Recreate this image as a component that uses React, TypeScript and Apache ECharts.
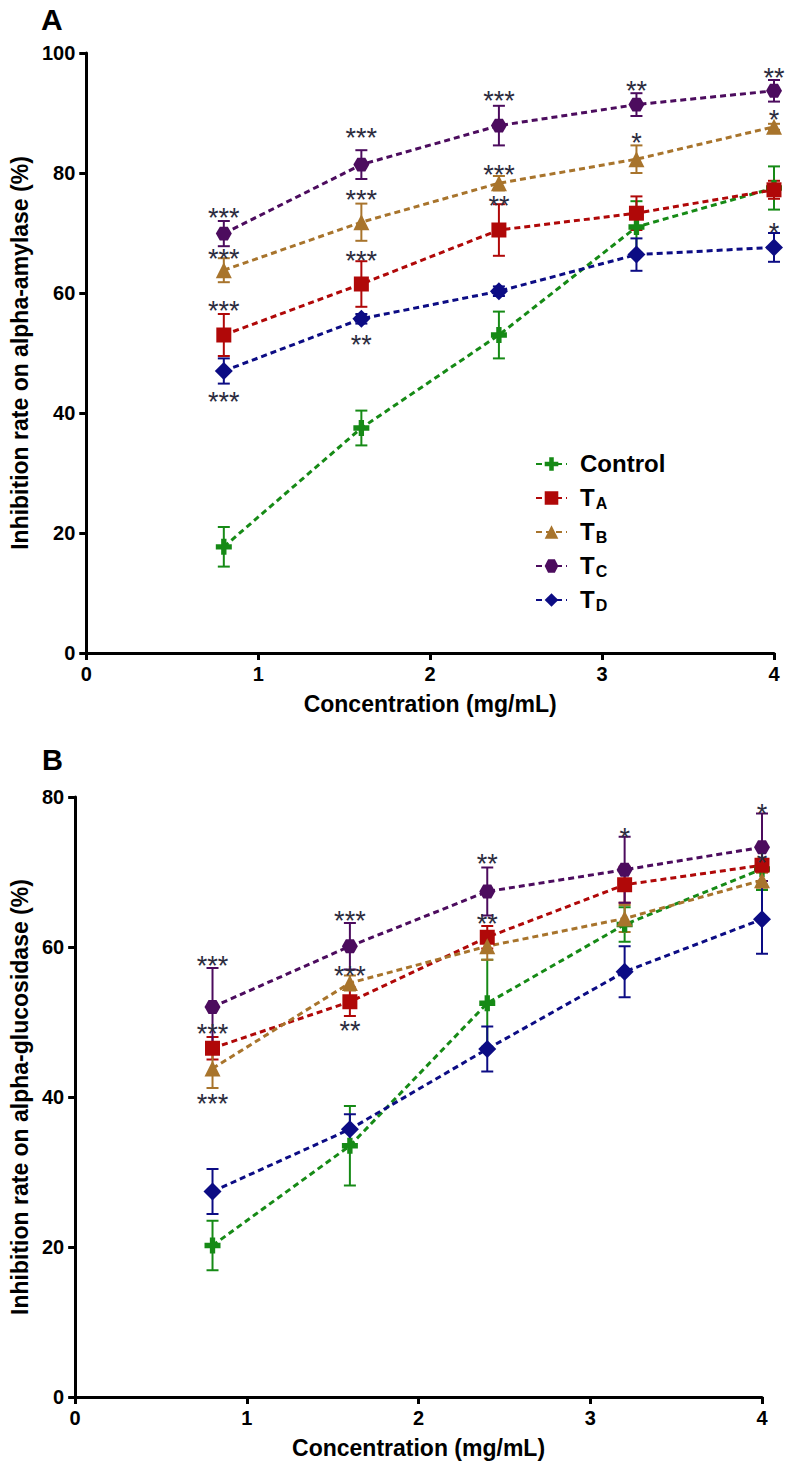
import React, { useEffect, useRef } from "react";
import * as echarts from "echarts";

const FONT = "'Liberation Sans', Arial, Helvetica, sans-serif";

// Concentrations (mg/mL)
const X_VALUES = [0.8, 1.6, 2.4, 3.2, 4.0];
const GROUP_NAMES = ["Control", "TA", "TB", "TC", "TD"];
const GROUP_COLORS = ["#168a16", "#b00808", "#a8742c", "#4c0c5e", "#0c0c84"];
const X_TICKS = [0, 1, 2, 3, 4];

// Panel A: alpha-amylase inhibition (%) — means and SD
const A_CONTROL = [17.7, 37.5, 53.0, 71.0, 77.5];
const A_CONTROL_SD = [3.3, 2.9, 3.9, 4.3, 3.6];
const A_TA = [53.0, 61.5, 70.5, 73.3, 77.2];
const A_TA_SD = [3.5, 3.8, 4.3, 2.8, 1.5];
const A_TB = [63.8, 71.8, 78.3, 82.3, 87.7];
const A_TB_SD = [2.0, 3.1, 1.2, 2.3, 0.5];
const A_TC = [69.9, 81.4, 87.9, 91.4, 93.7];
const A_TC_SD = [2.1, 2.4, 3.3, 1.9, 1.8];
const A_TD = [47.0, 55.7, 60.3, 66.4, 67.6];
const A_TD_SD = [2.1, 0.8, 0.8, 2.7, 2.4];

// Panel B: alpha-glucosidase inhibition (%) — means and SD
const B_CONTROL = [20.2, 33.5, 52.5, 63.0, 70.4];
const B_CONTROL_SD = [3.3, 5.3, 5.8, 2.3, 2.8];
const B_TA = [46.5, 52.7, 61.3, 68.3, 70.9];
const B_TA_SD = [1.5, 1.9, 1.5, 2.4, 0.8];
const B_TB = [43.8, 55.2, 60.1, 63.8, 68.9];
const B_TB_SD = [2.6, 1.0, 1.8, 1.8, 1.0];
const B_TC = [52.0, 60.1, 67.4, 70.3, 73.3];
const B_TC_SD = [5.2, 3.1, 3.2, 4.4, 4.5];
const B_TD = [27.4, 35.7, 46.4, 56.7, 63.7];
const B_TD_SD = [3.0, 2.0, 3.0, 3.4, 4.6];

// Significance marks: [concentration, value position, text]
const A_STARS: [number, number, string][] = [
  [0.8, 73.5, "***"], [0.8, 66.7, "***"], [0.8, 58.0, "***"], [0.8, 42.8, "***"],
  [1.6, 86.8, "***"], [1.6, 76.5, "***"], [1.6, 66.3, "***"], [1.6, 52.3, "**"],
  [2.4, 93.0, "***"], [2.4, 80.7, "***"], [2.4, 75.5, "**"],
  [3.2, 94.7, "**"], [3.2, 86.0, "*"],
  [4.0, 96.8, "**"], [4.0, 89.8, "*"], [4.0, 71.0, "*"],
];
const B_STARS: [number, number, string][] = [
  [0.8, 58.3, "***"], [0.8, 49.2, "***"], [0.8, 39.9, "***"],
  [1.6, 64.3, "***"], [1.6, 56.9, "***"], [1.6, 49.6, "**"],
  [2.4, 71.9, "**"], [2.4, 63.9, "**"],
  [3.2, 75.3, "*"],
  [4.0, 78.5, "*"], [4.0, 72.0, "*"],
];

const PLUS = "path://M4,0h4v4h4v4h-4v4h-4v-4h-4v-4h4z";
const HEX = "path://M5,0L15,0L20,8.66L15,17.32L5,17.32L0,8.66Z";
const SYMBOLS = [PLUS, "rect", "triangle", HEX, "diamond"];
const SYMBOL_SIZES = [16, 15, 16, 16, 18];

const A_MEANS = [A_CONTROL, A_TA, A_TB, A_TC, A_TD];
const A_SDS = [A_CONTROL_SD, A_TA_SD, A_TB_SD, A_TC_SD, A_TD_SD];
const B_MEANS = [B_CONTROL, B_TA, B_TB, B_TC, B_TD];
const B_SDS = [B_CONTROL_SD, B_TA_SD, B_TB_SD, B_TC_SD, B_TD_SD];

function buildPanelSeries(panel: number, means: number[][], sds: number[][], stars: [number, number, string][]) {
  const out: any[] = [];
  GROUP_NAMES.forEach((name, g) => {
    const color = GROUP_COLORS[g];
    out.push({
      type: "custom",
      name: `${name}-err-${panel}`,
      xAxisIndex: panel,
      yAxisIndex: panel,
      clip: false,
      z: 2,
      data: X_VALUES.map((x, i) => [x, means[g][i], sds[g][i]]),
      encode: { x: 0, y: 1 },
      renderItem: (params: any, api: any) => {
        const x = api.value(0);
        const m = api.value(1);
        const s = api.value(2);
        const top = api.coord([x, m + s]);
        const bot = api.coord([x, m - s]);
        const hw = 6;
        const st = { stroke: color, lineWidth: 2 };
        return {
          type: "group",
          children: [
            { type: "line", shape: { x1: top[0], y1: top[1], x2: bot[0], y2: bot[1] }, style: st },
            { type: "line", shape: { x1: top[0] - hw, y1: top[1], x2: top[0] + hw, y2: top[1] }, style: st },
            { type: "line", shape: { x1: bot[0] - hw, y1: bot[1], x2: bot[0] + hw, y2: bot[1] }, style: st },
          ],
        };
      },
    });
    out.push({
      type: "line",
      name,
      xAxisIndex: panel,
      yAxisIndex: panel,
      z: 3,
      data: X_VALUES.map((x, i) => [x, means[g][i]]),
      symbol: SYMBOLS[g],
      symbolSize: SYMBOL_SIZES[g],
      symbolKeepAspect: true,
      showAllSymbol: true,
      lineStyle: { color, width: 3, type: [6, 4] },
      itemStyle: { color, borderWidth: 0 },
      emphasis: { disabled: true },
    });
  });
  out.push({
    type: "custom",
    name: `stars-${panel}`,
    xAxisIndex: panel,
    yAxisIndex: panel,
    clip: false,
    z: 5,
    data: stars.map((s) => [s[0], s[1]]),
    encode: { x: 0, y: 1 },
    renderItem: (params: any, api: any) => {
      const p = api.coord([api.value(0), api.value(1)]);
      return {
        type: "text",
        x: p[0],
        y: p[1] + 6,
        style: {
          text: stars[params.dataIndex][2],
          align: "center",
          verticalAlign: "middle",
          fontSize: 27,
          fontFamily: FONT,
          fill: "#2c2c3e",
        },
      };
    },
  });
  return out;
}

function axisCommon() {
  return {
    axisLine: { show: true, lineStyle: { color: "#000", width: 3 } },
    axisTick: { show: true, length: 7, lineStyle: { color: "#000", width: 3 } },
    splitLine: { show: false },
    axisLabel: { color: "#000", fontSize: 20, fontWeight: "bold", fontFamily: FONT, margin: 11 },
    nameLocation: "middle",
    nameTextStyle: { color: "#000", fontSize: 23, fontWeight: "bold", fontFamily: FONT },
  };
}

export default function App() {
  const ref = useRef<HTMLDivElement>(null);
  useEffect(() => {
    if (!ref.current) return;
    const chart = echarts.init(ref.current, undefined, { renderer: "svg" });
    const option: any = {
      animation: false,
      backgroundColor: "#fff",
      grid: [
        { left: 82, top: 53, width: 692, height: 600 },
        { left: 72, top: 797, width: 690, height: 600 },
      ],
      xAxis: [0, 1].map((gi) => ({
        ...axisCommon(),
        type: "value",
        gridIndex: gi,
        min: X_TICKS[0],
        max: X_TICKS[X_TICKS.length - 1],
        interval: 1,
        name: "Concentration (mg/mL)",
        nameGap: 39,
      })),
      yAxis: [
        {
          ...axisCommon(),
          type: "value",
          gridIndex: 0,
          min: 0,
          max: 100,
          interval: 20,
          name: "Inhibition rate on alpha-amylase (%)",
          nameGap: 49,
        },
        {
          ...axisCommon(),
          type: "value",
          gridIndex: 1,
          min: 0,
          max: 80,
          interval: 20,
          name: "Inhibition rate on alpha-glucosidase (%)",
          nameGap: 39,
        },
      ],
      legend: {
        data: GROUP_NAMES,
        orient: "vertical",
        left: 530,
        top: 443,
        itemWidth: 31,
        itemHeight: 17,
        itemGap: 5,
        selectedMode: false,
        formatter: (name: string) =>
          name === "Control" ? "{c|Control}{s| }" : `{c|T}{s|${name.slice(1)}}`,
        textStyle: {
          rich: {
            c: {
              fontSize: 24,
              fontWeight: "bold",
              fontFamily: FONT,
              color: "#000",
              verticalAlign: "top",
              lineHeight: 26,
              padding: [0, 0, 0, 8],
            },
            s: {
              fontSize: 16,
              fontWeight: "bold",
              fontFamily: FONT,
              color: "#000",
              verticalAlign: "bottom",
              lineHeight: 16,
              padding: [13, 0, 0, 1],
            },
          },
        },
      },
      graphic: [
        { type: "text", left: 41, top: 4, style: { text: "A", fontSize: 30, fontWeight: "bold", fontFamily: FONT, fill: "#000" } },
        { type: "text", left: 42, top: 745, style: { text: "B", fontSize: 29, fontWeight: "bold", fontFamily: FONT, fill: "#000" } },
      ],
      series: [
        ...buildPanelSeries(0, A_MEANS, A_SDS, A_STARS),
        ...buildPanelSeries(1, B_MEANS, B_SDS, B_STARS),
      ],
    };
    chart.setOption(option);
    return () => chart.dispose();
  }, []);
  return (
    <div
      ref={ref}
      style={{ position: "absolute", left: 0, top: 0, width: 789, height: 1472, background: "#fff" }}
    />
  );
}
